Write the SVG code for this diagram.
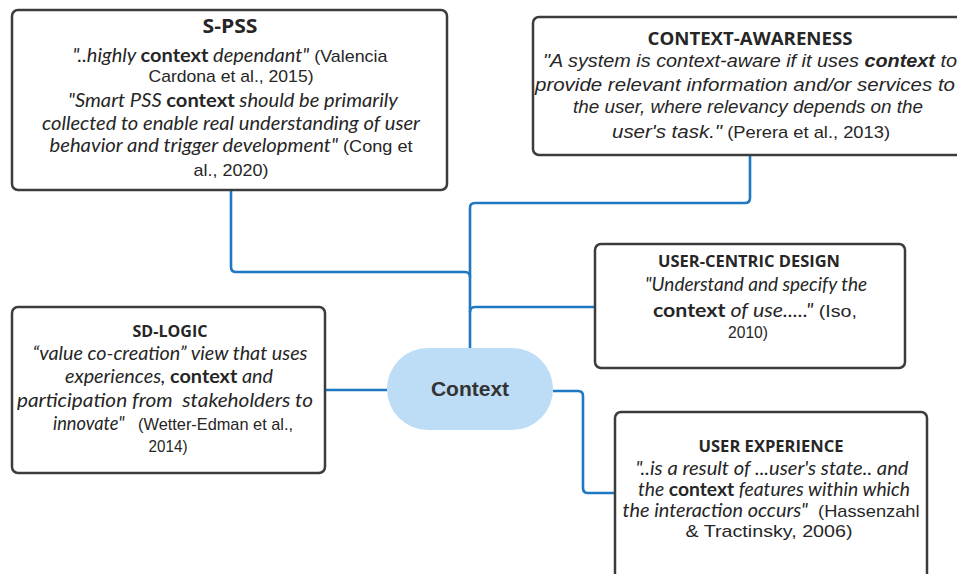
<svg xmlns="http://www.w3.org/2000/svg" width="957" height="574" viewBox="0 0 957 574">
<style>
.box{fill:#fff;stroke:#3c3c3c;stroke-width:2.5}
.conn{fill:none;stroke:#1f78c1;stroke-width:2.6}
text{fill:#262626;text-anchor:middle;white-space:pre}
.t{font-family:"Open Sans","Liberation Sans",sans-serif;font-weight:bold}
.c{font-family:Lato,"Open Sans",sans-serif;font-style:italic}
.cb{font-style:normal;font-weight:bold}
.cbi{font-style:italic;font-weight:bold}
.n{font-family:"Liberation Sans",Arial,sans-serif;font-style:normal;font-weight:normal}
.a{font-family:"Liberation Sans",Arial,sans-serif;font-style:italic}
#spss text{font-size:19px}
#spss .n{font-size:17px}
#spss .t{font-size:19px}
#context-awareness text{font-size:19px}
#context-awareness .n{font-size:17px}
#context-awareness .t{font-size:18.5px}
#user-centric text{font-size:18.5px}
#user-centric .n{font-size:17px}
#user-centric .t{font-size:16.5px}
#sd-logic text{font-size:19px}
#sd-logic .n{font-size:17px}
#sd-logic .t{font-size:16.5px}
#user-experience text{font-size:18.5px}
#user-experience .n{font-size:17px}
#user-experience .t{font-size:16.5px}
</style>
<g id="connectors">
<path class="conn" d="M470,348 V208 Q470,203 475,203 H745 Q750,203 750,198 V155"/>
<path class="conn" d="M231,190 V267 Q231,272 236,272 H465 Q470,272 470,277"/>
<path class="conn" d="M470,312 Q470,307 475,307 H594"/>
<path class="conn" d="M325,390 H387"/>
<path class="conn" d="M553,391 H578 Q583,391 583,396 V488 Q583,493 588,493 H615"/>
</g>
<g id="spss">
<rect class="box" x="12" y="10" width="435" height="180" rx="6"/>
<text class="t" x="230" y="33" textLength="55" lengthAdjust="spacingAndGlyphs">S-PSS</text>
<text class="c" x="230" y="62" textLength="315" lengthAdjust="spacingAndGlyphs">"..highly <tspan class="cb">context</tspan> dependant"<tspan class="n"> (Valencia</tspan></text>
<text class="n" x="231" y="82" textLength="165" lengthAdjust="spacingAndGlyphs">Cardona et al., 2015)</text>
<text class="c" x="233" y="107" textLength="330" lengthAdjust="spacingAndGlyphs">"Smart PSS <tspan class="cb">context</tspan> should be primarily</text>
<text class="c" x="231" y="130" textLength="378" lengthAdjust="spacingAndGlyphs">collected to enable real understanding of user</text>
<text class="c" x="231" y="152" textLength="363" lengthAdjust="spacingAndGlyphs">behavior and trigger development"<tspan class="n"> (Cong et</tspan></text>
<text class="n" x="231" y="176" textLength="75" lengthAdjust="spacingAndGlyphs">al., 2020)</text>
</g>
<g id="context-awareness">
<rect class="box" x="533" y="17" width="440" height="138" rx="6"/>
<text class="t" x="750" y="45" textLength="205" lengthAdjust="spacingAndGlyphs">CONTEXT-AWARENESS</text>
<text class="a" x="750" y="67" textLength="414" lengthAdjust="spacingAndGlyphs">"A system is context-aware if it uses <tspan class="cbi">context</tspan> to</text>
<text class="a" x="745" y="91" textLength="420" lengthAdjust="spacingAndGlyphs">provide relevant information and/or services to</text>
<text class="a" x="748" y="113" textLength="350" lengthAdjust="spacingAndGlyphs">the user, where relevancy depends on the</text>
<text class="a" x="751" y="138" textLength="278" lengthAdjust="spacingAndGlyphs">user's task."<tspan class="n"> (Perera et al., 2013)</tspan></text>
</g>
<g id="user-centric">
<rect class="box" x="595" y="244" width="310" height="124" rx="6"/>
<text class="t" x="749" y="267" textLength="182" lengthAdjust="spacingAndGlyphs">USER-CENTRIC DESIGN</text>
<text class="c" x="756" y="291" textLength="222" lengthAdjust="spacingAndGlyphs">"Understand and specify the</text>
<text class="c" x="755" y="317" textLength="204" lengthAdjust="spacingAndGlyphs"><tspan class="cb">context</tspan> of use....."<tspan class="n"> (Iso,</tspan></text>
<text class="n" x="748" y="338" textLength="40" lengthAdjust="spacingAndGlyphs">2010)</text>
</g>
<g id="sd-logic">
<rect class="box" x="12" y="307" width="313" height="166" rx="6"/>
<text class="t" x="170" y="337" textLength="75" lengthAdjust="spacingAndGlyphs">SD-LOGIC</text>
<text class="c" x="170" y="360" textLength="275" lengthAdjust="spacingAndGlyphs">“value co-creation” view that uses</text>
<text class="c" x="169" y="383" textLength="208" lengthAdjust="spacingAndGlyphs">experiences, <tspan class="cb">context</tspan> and</text>
<text class="c" x="165" y="407" textLength="296" lengthAdjust="spacingAndGlyphs">participation from  stakeholders to</text>
<text class="c" x="173" y="430" textLength="240" lengthAdjust="spacingAndGlyphs">innovate"<tspan class="n">   (Wetter-Edman et al.,</tspan></text>
<text class="n" x="168" y="452" textLength="39" lengthAdjust="spacingAndGlyphs">2014)</text>
</g>
<g id="user-experience">
<rect class="box" x="615" y="412" width="312" height="180" rx="6"/>
<text class="t" x="771" y="452" textLength="145" lengthAdjust="spacingAndGlyphs">USER EXPERIENCE</text>
<text class="c" x="772" y="475" textLength="273" lengthAdjust="spacingAndGlyphs">"..is a result of ...user's state.. and</text>
<text class="c" x="774" y="496" textLength="272" lengthAdjust="spacingAndGlyphs">the <tspan class="cb">context</tspan> features within which</text>
<text class="c" x="771" y="517" textLength="297" lengthAdjust="spacingAndGlyphs">the interaction occurs"<tspan class="n">  (Hassenzahl</tspan></text>
<text class="n" x="769" y="537" textLength="167" lengthAdjust="spacingAndGlyphs">&amp; Tractinsky, 2006)</text>
</g>
<g id="context">
<rect x="387" y="348" width="166" height="82" rx="41" fill="#bddcf5"/>
<text x="470" y="396" style="font-family:'Liberation Sans',Arial,sans-serif;font-weight:bold;font-size:21px;fill:#333">Context</text>
</g>
</svg>
